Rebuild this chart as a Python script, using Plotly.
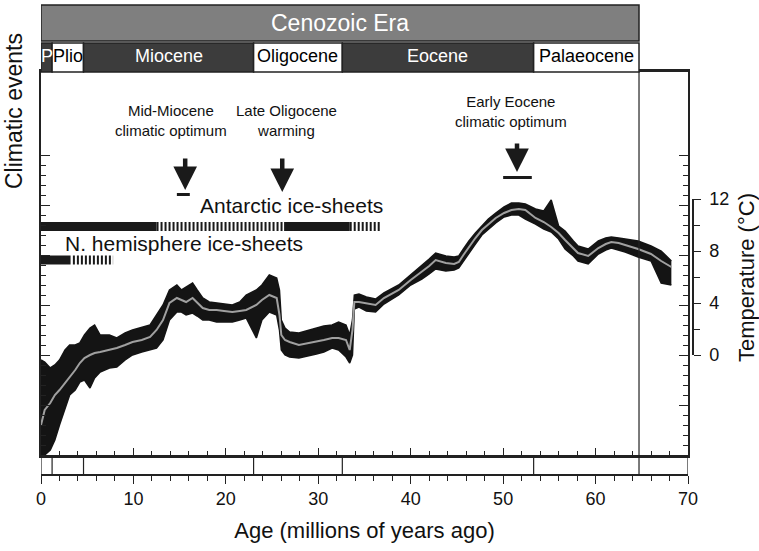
import plotly.graph_objects as go

FONT = "Liberation Sans, Arial, sans-serif"

# benthic d18O record: age in Ma, d18O in per mil
age = [0.0, 0.4, 1.0, 1.5, 2.0, 2.6, 3.1, 3.7, 4.2, 4.7,
       5.3, 5.8, 6.4, 7.4, 8.2, 9.1, 9.9, 10.9, 11.8, 12.5,
       13.2, 13.9, 14.7, 15.2, 15.7, 16.4, 16.9, 17.5, 18.2, 19.0,
       19.8, 20.7, 21.5, 22.2, 23.3, 23.9, 24.7, 25.5, 25.8, 26.0,
       26.4, 26.9, 27.9, 29.0, 29.8, 30.6, 31.5, 32.2, 33.0, 33.4,
       33.7, 33.9, 34.4, 35.2, 36.2, 37.1, 38.7, 40.0, 41.2, 42.0,
       42.7, 43.8, 44.7, 45.2, 45.7, 46.3, 47.0, 47.7, 48.4, 49.2,
       50.1, 50.9, 51.7, 52.4, 53.5, 54.4, 55.2, 56.0, 56.7, 57.6,
       58.1, 59.2, 60.3, 61.1, 61.7, 62.5, 63.2, 64.6, 66.0, 67.1,
       68.2]
d18o_smooth = [4.40, 4.10, 3.96, 3.80, 3.70, 3.56, 3.44, 3.30, 3.16, 3.06,
               3.00, 2.96, 2.94, 2.90, 2.86, 2.80, 2.74, 2.70, 2.64, 2.50,
               2.30, 1.96, 1.86, 1.90, 1.94, 1.86, 1.96, 2.06, 2.10, 2.10,
               2.12, 2.14, 2.12, 2.10, 2.00, 1.90, 1.80, 1.86, 2.20, 2.60,
               2.70, 2.74, 2.80, 2.76, 2.74, 2.70, 2.66, 2.66, 2.70, 2.90,
               2.50, 1.94, 1.94, 1.96, 2.00, 1.86, 1.70, 1.50, 1.34, 1.22,
               1.10, 1.16, 1.18, 1.14, 1.00, 0.84, 0.66, 0.50, 0.38, 0.26,
               0.16, 0.10, 0.08, 0.10, 0.26, 0.34, 0.44, 0.56, 0.70, 0.88,
               0.96, 1.02, 0.86, 0.78, 0.74, 0.76, 0.80, 0.88, 0.98, 1.12,
               1.24]
# light (warm) and heavy (cold) edges of the cloud of individual samples
d18o_light = [3.10, 3.14, 3.26, 3.20, 3.10, 2.90, 2.80, 2.80, 2.76, 2.60,
              2.46, 2.40, 2.60, 2.60, 2.66, 2.56, 2.50, 2.44, 2.40, 2.20,
              2.00, 1.70, 1.60, 1.70, 1.64, 1.56, 1.70, 1.86, 1.94, 1.96,
              1.98, 2.00, 1.94, 1.80, 1.70, 1.60, 1.40, 1.46, 1.70, 2.30,
              2.46, 2.54, 2.56, 2.50, 2.46, 2.42, 2.40, 2.34, 2.40, 2.60,
              2.30, 1.80, 1.78, 1.84, 1.88, 1.76, 1.60, 1.40, 1.22, 1.08,
              0.96, 1.02, 1.04, 1.02, 0.88, 0.72, 0.56, 0.42, 0.28, 0.16,
              0.04, -0.04, -0.04, -0.02, 0.08, 0.12, -0.10, 0.42, 0.52, 0.72,
              0.82, 0.88, 0.72, 0.66, 0.64, 0.66, 0.68, 0.72, 0.82, 0.92,
              1.12]
d18o_heavy = [5.00, 5.00, 4.90, 4.70, 4.40, 4.06, 3.80, 3.70, 3.54, 3.50,
              3.66, 3.46, 3.34, 3.26, 3.24, 3.10, 3.00, 2.94, 2.90, 2.86,
              2.70, 2.30, 2.14, 2.14, 2.20, 2.16, 2.22, 2.30, 2.30, 2.34,
              2.34, 2.34, 2.30, 2.26, 2.66, 2.30, 2.14, 2.20, 2.50, 2.90,
              3.00, 3.04, 3.06, 3.02, 2.98, 2.94, 2.86, 2.90, 3.04, 3.16,
              3.00, 2.08, 2.04, 2.12, 2.14, 1.98, 1.80, 1.60, 1.48, 1.38,
              1.28, 1.32, 1.30, 1.26, 1.12, 0.96, 0.78, 0.60, 0.48, 0.36,
              0.24, 0.20, 0.20, 0.28, 0.38, 0.48, 0.54, 0.68, 0.88, 1.02,
              1.12, 1.18, 0.98, 0.90, 0.86, 0.90, 0.94, 1.04, 1.12, 1.56,
              1.60]

epoch_names = ["P", "Plio", "Miocene", "Oligocene", "Eocene", "Palaeocene"]
epoch_bounds = [0, 1.2, 4.6, 23.0, 32.6, 53.3, 64.7]
epoch_dark = [True, False, True, False, True, False]

# ice sheets, age ranges in Ma
antarctic_full = [(0, 12.5), (26.3, 33.4)]
antarctic_partial = [(12.5, 26.3), (33.4, 36.8)]
nh_full = [(0, 3.2)]
nh_partial = [(3.45, 7.8)]

event_labels = ["Mid-Miocene<br>climatic optimum", "Late Oligocene<br>warming",
                "Early Eocene<br>climatic optimum"]
event_ages = [15.6, 26.1, 51.5]
event_span = [(14.7, 16.1), None, (50.0, 53.1)]

temp_ticks = [0, 4, 8, 12]

# placement of the event part of the panel (in d18O units of the left axis)
ANT_ROW, NH_ROW = 0.43, 1.10
LABEL_X = [14.1, 26.6, 50.85]
LABEL_Y = [-1.70, -1.70, -1.88]
ARROW_TIP = [-0.30, -0.26, -0.66]
ARROW_TAIL = [-0.96, -0.96, -1.26]
SPAN_ROW = [-0.21, None, -0.55]

PLOT_W = 652  # px, plot area incl. gap before the temperature bracket


def ypx(py):
    # paper y for a pixel row of the 551 px page
    return (475 - py) / 403


def xpx(px):
    return (px - 41) / PLOT_W


def segs(ranges, row):
    xs, ys = [], []
    for a, b in ranges:
        xs += [a, b, None]
        ys += [row, row, None]
    return xs, ys


fig = go.Figure()

fig.add_trace(go.Scatter(x=age, y=d18o_heavy, mode="lines",
                         line=dict(color="#141414", width=1.5)))
fig.add_trace(go.Scatter(x=age, y=d18o_light, mode="lines", fill="tonexty",
                         fillcolor="#141414", line=dict(color="#141414", width=1.5)))
fig.add_trace(go.Scatter(x=age, y=d18o_smooth, mode="lines",
                         line=dict(color="#a0a0a0", width=2)))

for ranges, row, dash in [(antarctic_full, ANT_ROW, "solid"),
                          (antarctic_partial, ANT_ROW, "2px,2px"),
                          (nh_full, NH_ROW, "solid"),
                          (nh_partial, NH_ROW, "2px,2px")]:
    xs, ys = segs(ranges, row)
    fig.add_trace(go.Scatter(x=xs, y=ys, mode="lines",
                             line=dict(color="#1a1a1a", width=9, dash=dash)))

for span, row in zip(event_span, SPAN_ROW):
    if span is None:
        continue
    fig.add_trace(go.Scatter(x=list(span), y=[row, row], mode="lines",
                             line=dict(color="#1a1a1a", width=3)))

# empty traces so the extra axes get drawn
fig.add_trace(go.Scatter(x=[], y=[], xaxis="x2", yaxis="y"))
fig.add_trace(go.Scatter(x=[], y=[], xaxis="x", yaxis="y3"))

shapes = []
shapes.append(dict(type="rect", xref="x", yref="paper", x0=0, x1=64.7,
                   y0=ypx(41), y1=ypx(5), fillcolor="#7f7f7f",
                   line=dict(color="#222", width=1.5)))
annots = []
annots.append(dict(text="Cenozoic Era", xref="x", yref="paper", x=32.35, y=ypx(23),
                   xanchor="center", yanchor="middle", showarrow=False,
                   font=dict(size=23, color="white", family=FONT)))
for i, name in enumerate(epoch_names):
    x0, x1 = epoch_bounds[i], epoch_bounds[i + 1]
    dark = epoch_dark[i]
    shapes.append(dict(type="rect", xref="x", yref="paper", x0=x0, x1=x1,
                       y0=ypx(72), y1=ypx(43), fillcolor="#3c3c3c" if dark else "white",
                       line=dict(color="#222", width=1.5)))
    annots.append(dict(text=name, xref="x", yref="paper", x=(x0 + x1) / 2, y=ypx(56),
                       xanchor="center", yanchor="middle", showarrow=False,
                       font=dict(size=18, color="white" if dark else "black", family=FONT)))

# strip under the record with the epoch boundaries
for b in epoch_bounds + [70]:
    shapes.append(dict(type="line", xref="x", yref="paper", x0=b, x1=b,
                       y0=0, y1=ypx(455), line=dict(color="#222", width=1.2)))
shapes.append(dict(type="line", xref="x", yref="paper", x0=64.7, x1=64.7,
                   y0=ypx(455), y1=1, line=dict(color="#222", width=1.2)))

for i, lab in enumerate(event_labels):
    annots.append(dict(text=lab, xref="x", yref="y", x=LABEL_X[i], y=LABEL_Y[i],
                       xanchor="center", yanchor="middle", showarrow=False,
                       font=dict(size=15, color="#111", family=FONT)))
    annots.append(dict(text="", xref="x", yref="y", x=event_ages[i], y=ARROW_TIP[i],
                       showarrow=True, ax=0, ay=-(ARROW_TIP[i] - ARROW_TAIL[i]) * 50,
                       arrowhead=2, arrowsize=1.05, arrowwidth=4.5, arrowcolor="#1a1a1a"))

annots.append(dict(text="Antarctic ice-sheets", xref="x", yref="y", x=17.0, y=0.0,
                   xanchor="left", yanchor="middle", showarrow=False,
                   font=dict(size=21, color="#111", family=FONT)))
annots.append(dict(text="N. hemisphere ice-sheets", xref="x", yref="y", x=2.4, y=0.76,
                   xanchor="left", yanchor="middle", showarrow=False,
                   font=dict(size=21, color="#111", family=FONT)))
annots.append(dict(text="Climatic events", xref="paper", yref="paper", x=xpx(14),
                   y=ypx(111), xanchor="center", yanchor="middle", textangle=-90,
                   showarrow=False, font=dict(size=23, color="#111", family=FONT)))
annots.append(dict(text="Temperature (°C)", xref="paper", yref="paper", x=xpx(746),
                   y=ypx(278), xanchor="center", yanchor="middle", textangle=-90,
                   showarrow=False, font=dict(size=22, color="#111", family=FONT)))

fig.update_layout(
    width=759, height=551,
    margin=dict(l=41, r=759 - 41 - PLOT_W, t=72, b=76, autoexpand=False),
    paper_bgcolor="white", plot_bgcolor="rgba(0,0,0,0)",
    showlegend=False,
    font=dict(family=FONT, color="#111"),
    shapes=shapes, annotations=annots,
    xaxis=dict(range=[0, 70], domain=[0, 647 / PLOT_W], anchor="y", showgrid=False,
               zeroline=False, showline=True, linecolor="#222", linewidth=2.5, mirror=True,
               ticks="inside", tickvals=list(range(0, 71, 10)), ticklen=7, tickwidth=1.2,
               tickcolor="#222", showticklabels=False, automargin=False,
               minor=dict(dtick=2, ticks="inside", ticklen=4, tickcolor="#222")),
    xaxis2=dict(range=[0, 70], overlaying="x", anchor="free", position=0, side="bottom",
                showgrid=False, zeroline=False, showline=True, linecolor="#222",
                linewidth=1.5, ticks="outside", tickvals=list(range(0, 71, 10)),
                ticklen=8, tickwidth=1.2, tickcolor="#222", automargin=False,
                tickfont=dict(size=18, family=FONT),
                minor=dict(dtick=2, ticks="outside", ticklen=5, tickcolor="#222"),
                title=dict(text="Age (millions of years ago)", standoff=13,
                           font=dict(size=22, family=FONT))),
    yaxis=dict(range=[5, -2.66], domain=[20 / 403, 1], showgrid=False, zeroline=False,
               showline=True, linecolor="#222", linewidth=1.5, mirror="ticks",
               ticks="inside", tickvals=[-1, 0, 1, 2, 3, 4, 5], ticklen=9, tickwidth=1.2,
               tickcolor="#222", showticklabels=False, automargin=False,
               minor=dict(tickvals=[round(-1 + 0.2 * k, 1) for k in range(31)],
                          ticks="inside", ticklen=5, tickcolor="#222")),
    yaxis3=dict(range=[0, 12], domain=[ypx(355), ypx(199)], anchor="free",
                position=1.0, side="right", showgrid=False, zeroline=False,
                showline=True, linecolor="#222", linewidth=1.5, automargin=False,
                ticks="outside", tickvals=temp_ticks, ticklen=7, tickwidth=1.2,
                tickcolor="#222", ticklabelstandoff=5,
                tickfont=dict(size=18, family=FONT),
                minor=dict(dtick=2, ticks="outside", ticklen=6, tickcolor="#222")),
)

# the page's default 8px body margin would push the figure off its window
fig.write_html("out.html", config={"displayModeBar": False},
               post_script="document.body.style.margin='0';")
